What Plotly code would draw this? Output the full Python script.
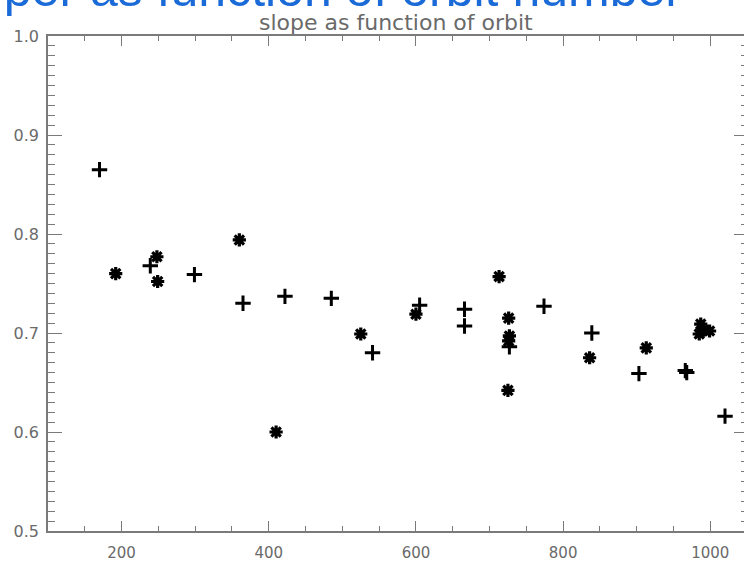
import plotly.graph_objects as go

# Orbit numbers and fitted slopes, two measurement sets
orbit_star = [192, 248, 249, 360, 410, 525, 600, 713, 726, 727, 726, 725,
              836, 913, 987, 985, 991, 999]
slope_star = [0.760, 0.777, 0.752, 0.794, 0.600, 0.699, 0.719, 0.757, 0.715,
              0.697, 0.692, 0.642, 0.675, 0.685, 0.709, 0.699, 0.703, 0.702]

orbit_plus = [170, 239, 299, 365, 422, 485, 541, 605, 666, 666, 774, 727,
              839, 903, 966, 968, 1020]
slope_plus = [0.865, 0.768, 0.759, 0.730, 0.737, 0.735, 0.680, 0.728, 0.724,
              0.707, 0.727, 0.686, 0.700, 0.659, 0.662, 0.660, 0.616]

x_range = [100, 1045.8]
y_range = [0.5, 1.0]

axis_grey = "#7a7a7a"
text_grey = "#6a6a6a"
thin_font = "DejaVu Sans ExtraLight, DejaVu Sans, sans-serif"

fig = go.Figure()

fig.add_trace(go.Scatter(
    x=orbit_star, y=slope_star, mode="markers",
    marker=dict(symbol="asterisk-open", size=11, color="black",
                line=dict(color="black", width=3.2)),
    hoverinfo="skip", showlegend=False,
))
fig.add_trace(go.Scatter(
    x=orbit_plus, y=slope_plus, mode="markers",
    marker=dict(symbol="cross-thin-open", size=11, color="black",
                line=dict(color="black", width=3)),
    hoverinfo="skip", showlegend=False,
))
# carrier trace for the right-hand tick axis
fig.add_trace(go.Scatter(x=[], y=[], yaxis="y2", hoverinfo="skip",
                         showlegend=False))

fig.update_layout(
    width=744, height=562,
    margin=dict(l=48, r=0, t=36, b=28, pad=0),
    paper_bgcolor="white", plot_bgcolor="white",
    xaxis=dict(
        range=x_range, tick0=0, dtick=200,
        ticks="inside", ticklen=10, tickcolor=axis_grey, tickwidth=1,
        minor=dict(dtick=50, ticks="inside", ticklen=5, tickcolor=axis_grey),
        showline=True, linecolor=axis_grey, linewidth=1.5, mirror="ticks",
        showgrid=False, zeroline=False,
        tickfont=dict(family=thin_font, size=15, color=text_grey),
        ticklabelstandoff=7,
    ),
    yaxis=dict(
        range=y_range, tick0=0, dtick=0.1, tickformat=".1f",
        ticks="inside", ticklen=14, tickcolor=axis_grey, tickwidth=1,
        minor=dict(dtick=0.01, ticks="inside", ticklen=7, tickcolor=axis_grey),
        showline=True, linecolor=axis_grey, linewidth=1.5,
        showgrid=False, zeroline=False,
        tickfont=dict(family=thin_font, size=16, color=text_grey),
        ticklabelstandoff=4,
    ),
    yaxis2=dict(
        range=y_range, overlaying="y", side="right", tick0=0, dtick=0.1,
        ticks="inside", ticklen=10, tickcolor=axis_grey, tickwidth=1,
        minor=dict(dtick=0.01, ticks="inside", ticklen=3, tickcolor=axis_grey),
        showticklabels=False, showline=False, showgrid=False, zeroline=False,
    ),
    annotations=[
        dict(text="slope as function of orbit", xref="paper", yref="paper",
             x=0.5, y=1, xanchor="center", yanchor="bottom", yshift=-1,
             showarrow=False,
             font=dict(family=thin_font, size=22, color=text_grey)),
        dict(text="Slope per as function of orbit number", xref="paper",
             yref="paper", x=(684 - 48) / 696, y=1, xanchor="right",
             yanchor="bottom", yshift=17, showarrow=False,
             font=dict(family="Liberation Sans, Arial, sans-serif", size=50,
                       color="#1a6ad8")),
    ],
)

fig.write_html("out.html")
